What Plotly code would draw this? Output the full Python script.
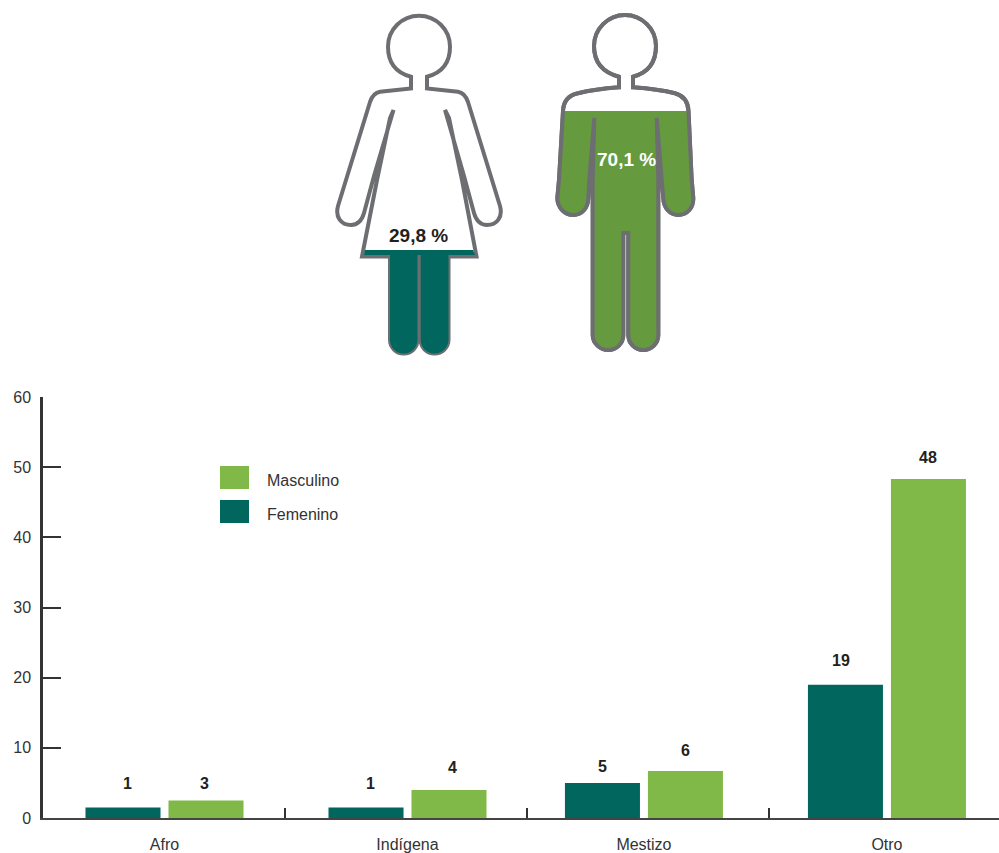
import plotly.graph_objects as go

# ---- data ----
categories = ["Afro", "Indígena", "Mestizo", "Otro"]
femenino_alturas = [1.5, 1.5, 5, 19]
masculino_alturas = [2.5, 4, 6.7, 48.3]
femenino_etiquetas = ["1", "1", "5", "19"]
masculino_etiquetas = ["3", "4", "6", "48"]
y_ticks = [0, 10, 20, 30, 40, 50, 60]
porcentaje_femenino = "29,8 %"
porcentaje_masculino = "70,1 %"

# ---- layout / style constants ----
W, H = 999, 853
X0, Y0, YTOP = 43, 818, 397
UNIT = 243.0
cat_pos = [0, 1, 1.973, 2.973]
boundaries = [0.496, 1.49, 2.488]
bar_off = 41.5 / UNIT
TEAL = "#00665e"
LIGHT = "#80b948"
MALE_FILL = "#669a3f"
GREY = "#6d6e71"
INK = "#231f20"
FONT = "Liberation Sans, Arial, sans-serif"

fem_shift = [(4.5, 24), (4.5, 24), (0, 16), (-4.5, 24)]
mas_shift = [(-1.5, 17), (3.5, 22), (0, 20), (0, 22)]

fig = go.Figure()
fig.add_bar(x=cat_pos, y=femenino_alturas, name="Femenino", marker_color=TEAL, marker_line_width=0)
fig.add_bar(x=cat_pos, y=masculino_alturas, name="Masculino", marker_color=LIGHT, marker_line_width=0)

annotations = []
for i in range(len(categories)):
    for vals, labs, shift, sign in (
        (femenino_alturas, femenino_etiquetas, fem_shift, -1),
        (masculino_alturas, masculino_etiquetas, mas_shift, 1),
    ):
        annotations.append(dict(
            x=cat_pos[i] + sign * bar_off, y=vals[i], text=f"<b>{labs[i]}</b>",
            xref="x", yref="y", showarrow=False, xanchor="center", yanchor="middle",
            xshift=shift[i][0], yshift=shift[i][1],
            font=dict(family=FONT, size=16, color=INK),
        ))

# pictogram outlines, in figure pixels via the hidden full-page axes
woman_outline = (
    "M411,76.7 C397,73 388,63.8 388,46.7 C388,29.6 401.9,15.7 419,15.7 C436.1,15.7 450,29.6 450,46.7 "
    "C450,63.8 441,73 427,76.7 L427,88.5 L458,91.7 C463,92.5 466,96 468,102 L492,180 L500,206 "
    "C503,217 497,225 487,225 C480,225 476,220 474,213 L464,176 L445,110 L449,118 L462,180 L476.5,256.5 "
    "L448.5,256.5 L448.5,339.5 C448.5,347.5 442.3,353.5 434.5,353.5 C426.7,353.5 420.7,347.5 420.7,339.5 L420.7,257 "
    "L417.5,257 L417.5,339.5 C417.5,347.5 411.5,353.5 403.7,353.5 C395.9,353.5 390,347.5 390,339.5 L390,256.5 "
    "L362,256.5 L377,180 L390,118 L393.5,110 L374,176 L364,213 C362,220 358,225 351,225 "
    "C341,225 335,217 338,206 L346,180 L370,102 C372,96 375,92.5 380,91.7 L411,88.5 Z"
)
woman_fill = (
    "M365,250 L473,250 L475,255 L448.5,255 L448.5,339.5 C448.5,347.5 442.3,353.5 434.5,353.5 "
    "C426.7,353.5 420.7,347.5 420.7,339.5 L420.7,255 L417.5,255 L417.5,339.5 C417.5,347.5 411.5,353.5 403.7,353.5 "
    "C395.9,353.5 390,347.5 390,339.5 L390,255 L364,255 Z"
)
man_body = (
    "L688.5,111 L691.7,180 L693.3,198 C693.5,208 687,215 678.3,215 C670,215 663.5,208 663.3,198 "
    "L661.7,180 L656.7,118 L658.3,180 L658.3,335 C658.3,343.3 651.6,350 643.3,350 C635,350 628.3,343.3 628.3,335 "
    "L628.3,233 L623.3,233 L623.3,335 C623.3,343.3 616.6,350 608.3,350 C600,350 592.7,343.3 592.7,335 L592.7,180 "
    "L594.3,118 L589.3,180 L588.3,198 C588,208 582,215 573.3,215 C565,215 557.5,208 557.3,198 L559,180 L563,111 "
)
man_outline = (
    "M619,76.7 C605,73 594,63.8 594,46 C594,29 607.9,15 625,15 C642.1,15 656,29 656,46 "
    "C656,63.8 647,73 633,76.7 L633,87.3 C650,88.5 664,90.5 675,93.3 C683,95.5 688,101 688.5,111 "
    + man_body +
    "C563.5,101 568,95.5 578,93.3 C589,90.5 603,88.5 619,87.3 Z"
)
man_fill = "M563,111 " + man_body + "Z"


def pic(path, fill, line):
    return dict(type="path", path=path, xref="x2", yref="y2", layer="above",
                fillcolor=fill, line=dict(color=line or "rgba(0,0,0,0)", width=4 if line else 0))


shapes = [
    pic(woman_outline, "white", GREY),
    pic(woman_fill, TEAL, None),
    pic(man_outline, "white", GREY),
    pic(man_fill, MALE_FILL, None),
    pic(man_outline, "rgba(0,0,0,0)", GREY),
    dict(type="rect", xref="x2", yref="y2", x0=220, x1=249, y0=466, y1=489, fillcolor=LIGHT, line_width=0),
    dict(type="rect", xref="x2", yref="y2", x0=220, x1=249, y0=500, y1=523, fillcolor=TEAL, line_width=0),
]

for text, x, y in [("Masculino", 266, 480), ("Femenino", 266, 514)]:
    annotations.append(dict(x=x, y=y, xref="x2", yref="y2", text=text, showarrow=False, xanchor="left",
                            xshift=-1, font=dict(family=FONT, size=16, color="#333333")))
annotations.append(dict(x=418, y=235, xref="x2", yref="y2", text=f"<b>{porcentaje_femenino}</b>",
                        showarrow=False, font=dict(family=FONT, size=19, color=INK)))
annotations.append(dict(x=626, y=159, xref="x2", yref="y2", text=f"<b>{porcentaje_masculino}</b>",
                        showarrow=False, font=dict(family=FONT, size=19, color="white")))

fig.update_layout(
    width=W, height=H, margin=dict(l=0, r=0, t=0, b=0),
    paper_bgcolor="white", plot_bgcolor="rgba(0,0,0,0)",
    barmode="group", bargap=0.298, bargroupgap=0.096, showlegend=False,
    font=dict(family=FONT, size=16, color="#333333"),
    shapes=shapes, annotations=annotations,
    xaxis=dict(
        domain=[X0 / W, 1], range=[-0.5, -0.5 + (W - X0) / UNIT], tickmode="array",
        tickvals=cat_pos, ticktext=categories, ticks="", ticklabelstandoff=11, automargin=False,
        showgrid=False, zeroline=False, showline=True, linecolor="#444444", linewidth=2,
        tickfont=dict(family=FONT, size=16, color="#333333"),
        minor=dict(tickmode="array", tickvals=boundaries, ticks="inside", ticklen=10, tickwidth=2,
                   tickcolor="#333333", showgrid=False),
    ),
    yaxis=dict(
        domain=[(H - Y0) / H, (H - YTOP) / H], range=[0, 60], tickmode="array", tickvals=y_ticks,
        ticks="inside", ticklen=18, tickwidth=2, tickcolor="#333333", automargin=False,
        showgrid=False, zeroline=False, showline=True, linecolor="#333333", linewidth=2.5,
        ticklabelstandoff=6, tickfont=dict(family=FONT, size=16, color="#333333"),
    ),
    xaxis2=dict(domain=[0, 1], range=[0, W], visible=False, anchor="y2", fixedrange=True),
    yaxis2=dict(domain=[0, 1], range=[H, 0], visible=False, anchor="x2", fixedrange=True),
)
# keeps the full-page axes alive so shapes can use them
fig.add_scatter(x=[0], y=[0], xaxis="x2", yaxis="y2", mode="markers", marker_opacity=0, hoverinfo="skip", showlegend=False)

fig.write_html("out.html", config={"displayModeBar": False}, post_script="document.body.style.margin='0';")
